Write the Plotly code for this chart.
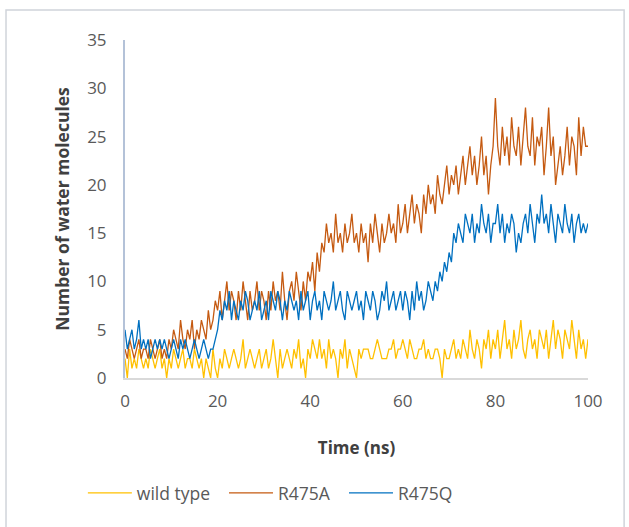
import plotly.graph_objects as go

time_ns = [i * 0.5 for i in range(201)]

wild_type = [
    2,0,3,1,2,1,3,2,1,2,1,3,2,1,2,3,1,2,0,2,
    1,3,2,1,2,3,1,2,2,1,3,2,1,2,0,2,1,0,3,1,
    0,2,1,3,2,1,2,3,2,1,2,4,1,2,3,2,1,2,3,1,
    2,3,1,2,4,2,0,3,1,2,3,2,1,3,2,4,1,2,0,3,
    2,4,3,2,4,2,3,1,4,2,3,2,0,3,2,4,1,3,2,1,
    0,3,2,3,3,3,2,2,3,4,3,2,2,2,3,3,4,2,3,3,
    4,3,2,4,3,2,2,3,3,4,2,3,2,2,3,3,2,0,3,2,
    2,3,4,2,3,2,4,3,2,5,3,2,4,3,1,4,3,5,2,4,
    3,5,2,4,6,3,4,2,5,3,4,6,3,2,4,5,3,4,2,5,
    4,3,5,2,4,6,3,5,4,2,5,4,3,6,4,2,5,3,4,2,
    4,
]

r475a = [
    3,2,4,3,2,3,4,2,3,3,2,4,3,2,3,4,2,3,2,4,
    3,5,4,3,6,4,3,5,4,6,3,5,4,6,5,4,7,5,6,8,
    7,9,6,8,10,7,9,8,6,9,7,10,8,6,9,7,8,10,7,9,
    8,6,9,7,10,8,9,7,11,8,6,9,10,8,11,9,7,10,8,11,
    10,12,9,13,11,14,13,16,14,15,13,17,14,15,13,16,14,15,17,14,
    15,13,16,14,15,12,16,14,17,15,13,16,14,15,17,15,16,14,18,15,
    16,18,15,17,19,16,18,17,15,19,17,20,18,19,17,21,19,18,20,22,
    19,21,20,22,19,21,23,20,22,24,21,23,20,22,25,21,23,19,22,24,
    29,24,22,26,23,25,22,27,24,23,26,22,25,28,24,23,27,22,25,24,
    26,21,24,28,23,25,20,22,24,21,23,26,22,25,24,21,27,23,26,24,
    24,
]

r475q = [
    5,3,4,5,3,4,6,3,4,3,4,2,3,4,3,4,3,4,3,2,
    3,4,3,2,4,3,4,3,2,3,4,3,2,3,4,3,2,3,3,4,
    5,7,6,8,7,9,6,8,7,6,8,7,9,8,6,7,8,7,9,6,
    7,8,6,9,8,7,9,8,6,8,7,9,8,7,8,6,9,7,8,9,
    6,8,9,7,8,6,9,8,7,8,10,7,8,9,7,6,9,8,7,8,
    9,7,8,6,9,8,7,9,8,6,7,9,8,10,7,8,9,7,8,9,
    7,9,8,6,9,7,10,8,9,7,8,10,9,8,10,9,11,10,12,11,
    13,12,15,14,16,15,14,17,16,15,17,14,16,15,18,16,15,17,14,16,
    16,18,15,17,14,16,15,17,16,13,15,14,16,17,15,18,16,14,17,16,
    19,16,17,15,18,16,14,17,16,15,18,16,15,17,14,16,17,15,16,15,
    16,
]

series_names = ["wild type", "R475A", "R475Q"]
series_values = [wild_type, r475a, r475q]
series_colors = ["#FFC000", "#C55A11", "#0070C0"]

x_ticks = [0, 20, 40, 60, 80, 100]
y_ticks = [0, 5, 10, 15, 20, 25, 30, 35]

font_family = "Open Sans, Lato, sans-serif"
legend_ids = ["legend", "legend2", "legend3"]
legend_x = [-0.091, 0.2138, 0.4730]

fig = go.Figure()
for name, vals, col, lid in zip(series_names, series_values, series_colors, legend_ids):
    fig.add_trace(go.Scatter(
        x=time_ns, y=vals, mode="lines", name=name, legend=lid,
        line=dict(color=col, width=1.3),
    ))

legend_common = dict(orientation="h", xanchor="left", y=-0.34, yanchor="middle",
                     font=dict(size=17.5, color="#595959"), itemwidth=44,
                     bgcolor="rgba(0,0,0,0)")
fig.update_layout(
    width=629, height=527,
    margin=dict(l=125, r=41, t=40, b=149, autoexpand=False),
    paper_bgcolor="white", plot_bgcolor="white",
    font=dict(family=font_family, size=17, color="#595959"),
    showlegend=True,
    legend=dict(x=legend_x[0], **legend_common),
    legend2=dict(x=legend_x[1], **legend_common),
    legend3=dict(x=legend_x[2], **legend_common),
    shapes=[dict(type="rect", xref="paper", yref="paper",
                 x0=-0.257, x1=1.078, y0=-0.46, y1=1.089,
                 line=dict(color="#D0D4DA", width=1.5), fillcolor="rgba(0,0,0,0)",
                 layer="below")],
)
fig.update_xaxes(
    range=[0, 100], tickvals=x_ticks, showgrid=False, zeroline=False,
    showline=True, linecolor="#D9D9D9", linewidth=1.5, automargin=False,
    ticks="outside", ticklen=7, tickcolor="rgba(0,0,0,0)",
    tickfont=dict(size=17, color="#595959"),
    title=dict(text="<b>Time (ns)</b>", font=dict(size=17, color="#404040"), standoff=31),
)
fig.update_yaxes(
    range=[0, 35], tickvals=y_ticks, showgrid=False, zeroline=False,
    showline=True, linecolor="#B4C2D8", linewidth=2, automargin=False,
    ticks="outside", ticklen=13, tickcolor="rgba(0,0,0,0)",
    tickfont=dict(size=17, color="#595959"),
    title=dict(text="<b>Number of water molecules</b>", font=dict(size=17.5, color="#404040"), standoff=13),
)

fig.write_html("out.html", config={"displayModeBar": False},
               post_script="document.body.style.margin='0';")
